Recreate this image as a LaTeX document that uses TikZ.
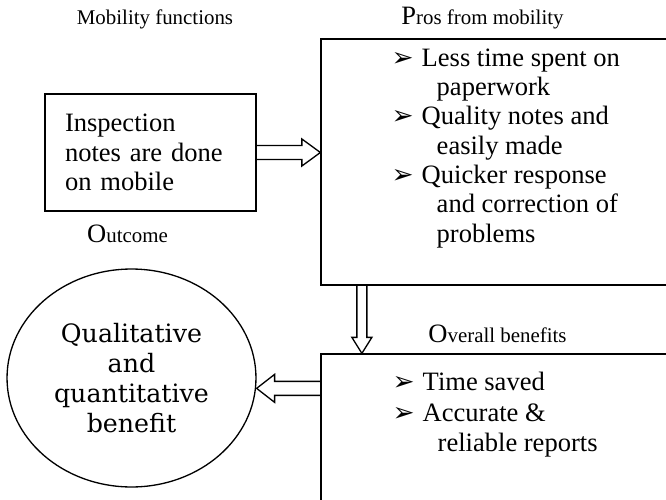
\documentclass[tikz,border=0pt]{standalone}
\usepackage{fontspec}
\setmainfont{Liberation Serif}
\newfontfamily\symfont{DejaVu Sans}
\newfontfamily\ovalfont{DejaVu Serif}
\usetikzlibrary{calc, shapes.geometric, positioning}

\newcommand{\bul}{\makebox[0.6cm][l]{\symfont\fontsize{15}{15}\selectfont ➢}}
\newcommand{\cont}{\hspace*{0.9cm}}
\newcommand{\initial}[1]{{\fontsize{15.1}{17}\selectfont #1}}
% hollow block arrow: from, to, shaft half width, head half width, head length
\newcommand{\fatarrow}[5]{%
  \coordinate (fa-h) at ($(#2)!#5!(#1)$);
  \draw[fat] ($(#1)!#3!90:(#2)$) -- ($(fa-h)!#3!90:(#2)$) -- ($(fa-h)!#4!90:(#2)$) -- (#2)
    -- ($(fa-h)!#4!-90:(#2)$) -- ($(fa-h)!#3!-90:(#2)$) -- ($(#1)!#3!-90:(#2)$);}

\begin{document}
\begin{tikzpicture}[x=0.02cm, y=-0.02cm,
    box/.style={draw, line width=0.75pt, inner sep=0pt},
    hdr/.style={font=\fontsize{11.9}{14}\selectfont, inner sep=0pt},
    txt/.style={font=\fontsize{15.1}{16.7}\selectfont, align=left, inner sep=0pt},
    fat/.style={line width=0.75pt, line join=miter}
]
    \clip (0,0) rectangle (666,500);

    % headings
    \node[hdr, anchor=base] (mobhdr) at (155,25) {Mobility functions};
    \node[hdr, anchor=base] (proshdr) at (482.5,25) {\initial{P}ros from mobility};
    \node[hdr, anchor=base] (outhdr) at (127.5,242) {\initial{O}utcome};
    \node[hdr, anchor=base] (benhdr) at (497.5,342) {\initial{O}verall benefits};

    % boxes
    \node[box, txt, minimum width=4.22cm, minimum height=2.34cm, text width=3.42cm, inner xsep=0.4cm] (insp) at (150.5,152.5) {Inspection\\notes are done\\on mobile};
    \node[box, minimum width=7.98cm, minimum height=4.92cm] (pros) at (520.5,162) {};
    \node[box, minimum width=7.98cm, minimum height=3.72cm] (gains) at (520.5,447) {};
    \node[ellipse, draw, line width=0.75pt, minimum width=4.98cm, minimum height=4.36cm, inner sep=0pt, align=center, font=\ovalfont\fontsize{14.4}{17}\selectfont] (result) at (131.5,378) {Qualitative\\and\\quantitative\\benefit};

    % bullet lists
    \node[txt, anchor=north west] (proslist) at ($(pros.north west)+(71,10)$) {\bul Less time spent on\\ \cont paperwork\\ \bul Quality notes and\\ \cont easily made\\ \bul Quicker response\\ \cont and correction of\\ \cont problems};
    \node[txt, font=\fontsize{15.1}{17.6}\selectfont, anchor=north west] (gainslist) at ($(gains.north west)+(72,18)$) {\bul Time saved\\ \bul Accurate \&\\ \cont reliable reports};

    % arrows
    \coordinate (a1) at (insp.east -| pros.west);
    \coordinate (a2s) at ($(pros.south west)+(41.5,0)$);
    \coordinate (a2e) at (a2s |- gains.north);
    \coordinate (a3s) at ($(gains.north west)+(0,35)$);
    \coordinate (a3e) at (a3s -| result.east);
    \fatarrow{insp.east}{a1}{0.14cm}{0.27cm}{0.37cm}
    \fatarrow{a2s}{a2e}{0.1cm}{0.2cm}{0.32cm}
    \fatarrow{a3s}{a3e}{0.14cm}{0.28cm}{0.36cm}
\end{tikzpicture}
\end{document}
